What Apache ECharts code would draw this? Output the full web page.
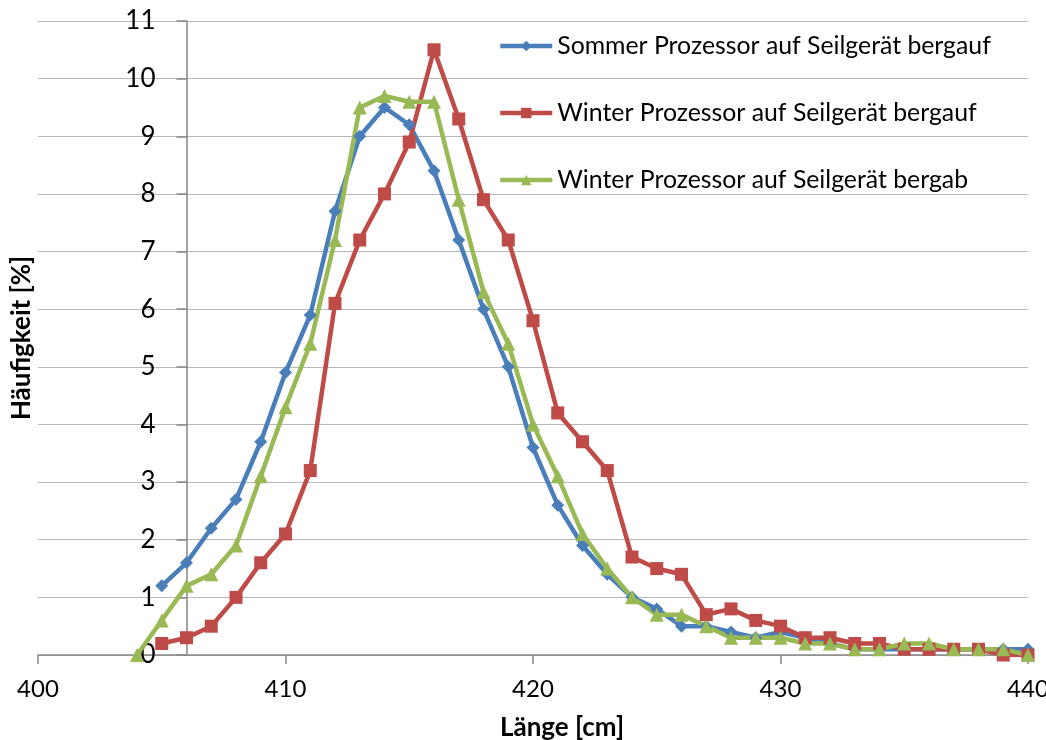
<!DOCTYPE html>
<html>
<head>
<meta charset="utf-8">
<script src="https://cdn.jsdelivr.net/npm/echarts@6/dist/echarts.min.js"></script>
<style>
  html, body { margin: 0; padding: 0; background: #ffffff; }
  #chart { width: 1046px; height: 740px; }
</style>
</head>
<body>
<div id="chart"></div>
<script>
// Länge in cm (Klassen)
const laengen = [404, 405, 406, 407, 408, 409, 410, 411, 412, 413, 414, 415, 416, 417, 418, 419, 420, 421, 422,
                 423, 424, 425, 426, 427, 428, 429, 430, 431, 432, 433, 434, 435, 436, 437, 438, 439, 440];

// Häufigkeit in %
const sommerBergauf = [null, 1.2, 1.6, 2.2, 2.7, 3.7, 4.9, 5.9, 7.7, 9.0, 9.5, 9.2, 8.4, 7.2, 6.0, 5.0, 3.6, 2.6, 1.9,
                       1.4, 1.0, 0.8, 0.5, 0.5, 0.4, 0.3, 0.4, 0.3, 0.2, 0.1, 0.1, 0.1, 0.1, 0.1, 0.1, 0.1, 0.1];
const winterBergauf = [null, 0.2, 0.3, 0.5, 1.0, 1.6, 2.1, 3.2, 6.1, 7.2, 8.0, 8.9, 10.5, 9.3, 7.9, 7.2, 5.8, 4.2, 3.7,
                       3.2, 1.7, 1.5, 1.4, 0.7, 0.8, 0.6, 0.5, 0.3, 0.3, 0.2, 0.2, 0.1, 0.1, 0.1, 0.1, 0.0, 0.0];
const winterBergab  = [0.0, 0.6, 1.2, 1.4, 1.9, 3.1, 4.3, 5.4, 7.2, 9.5, 9.7, 9.6, 9.6, 7.9, 6.3, 5.4, 4.0, 3.1, 2.1,
                       1.5, 1.0, 0.7, 0.7, 0.5, 0.3, 0.3, 0.3, 0.2, 0.2, 0.1, 0.1, 0.2, 0.2, 0.1, 0.1, 0.1, 0.0];

const serienNamen = [
  'Sommer Prozessor auf Seilgerät bergauf',
  'Winter Prozessor auf Seilgerät bergauf',
  'Winter Prozessor auf Seilgerät bergab'
];

const xTicks = { min: 400, max: 440, interval: 10 };
const yTicks = { min: 0, max: 11, interval: 1 };
const yAxisCross = 406;

const FONT = 'Lato';
const AXIS_GREY = '#868686';
const LINE_WIDTH = 4.5;

const pairs = vals => laengen.map((x, i) => [x, vals[i]]).filter(p => p[1] !== null);

const chart = echarts.init(document.getElementById('chart'), null, { renderer: 'canvas' });

const gridLeft = 38, gridRight = 18;
const plotWidth = 1046 - gridLeft - gridRight;
const yOffset = -plotWidth * (yAxisCross - xTicks.min) / (xTicks.max - xTicks.min);

function lineSeries(name, vals, color, symbol, size) {
  return {
    name: name,
    type: 'line',
    data: pairs(vals),
    symbol: symbol,
    symbolSize: size,
    showSymbol: true,
    lineStyle: { color: color, width: LINE_WIDTH },
    itemStyle: { color: color },
    emphasis: { disabled: true },
    z: 3
  };
}

chart.setOption({
  animation: false,
  backgroundColor: '#ffffff',
  textStyle: { fontFamily: FONT },
  grid: { left: gridLeft, right: gridRight, top: 21, bottom: 85, outerBoundsMode: 'none', containLabel: false },
  legend: {
    orient: 'vertical',
    left: 493,
    top: 26,
    itemWidth: 52,
    itemHeight: 13,
    itemGap: 37,
    lineStyle: { width: 'inherit' },
    textStyle: { fontFamily: FONT, fontSize: 24.8, color: '#000000', lineHeight: 30 },
    data: serienNamen.map(n => ({ name: n, lineStyle: { width: LINE_WIDTH } }))
  },
  xAxis: {
    type: 'value',
    min: xTicks.min, max: xTicks.max, interval: xTicks.interval,
    name: 'Länge [cm]',
    nameLocation: 'middle',
    nameGap: 60,
    nameTextStyle: { fontFamily: FONT, fontSize: 26, fontWeight: 'bold', color: '#000000', padding: [0, 0, 0, 58] },
    axisLine: { show: true, onZero: false, lineStyle: { color: AXIS_GREY, width: 1.5 } },
    axisTick: { show: true, length: 9, lineStyle: { color: AXIS_GREY, width: 1.5 } },
    axisLabel: { fontFamily: FONT, fontSize: 24, color: '#000000', margin: 22 },
    splitLine: { show: false }
  },
  yAxis: {
    type: 'value',
    min: yTicks.min, max: yTicks.max, interval: yTicks.interval,
    offset: yOffset,
    name: 'Häufigkeit [%]',
    nameLocation: 'middle',
    nameGap: 152,
    nameTextStyle: { fontFamily: FONT, fontSize: 26, fontWeight: 'bold', color: '#000000' },
    axisLine: { show: true, lineStyle: { color: AXIS_GREY, width: 1.5 } },
    axisTick: { show: true, length: 10, lineStyle: { color: AXIS_GREY, width: 1.5 } },
    axisLabel: { fontFamily: FONT, fontSize: 26, color: '#000000', margin: 31 },
    splitLine: { show: true, lineStyle: { color: '#b8b8b8', width: 1.2 } }
  },
  series: [
    lineSeries(serienNamen[0], sommerBergauf, '#4A7EBB', 'diamond', 13),
    lineSeries(serienNamen[1], winterBergauf, '#BE4B48', 'rect', 13),
    lineSeries(serienNamen[2], winterBergab, '#98B954', 'triangle', 14)
  ]
});
</script>
</body>
</html>
